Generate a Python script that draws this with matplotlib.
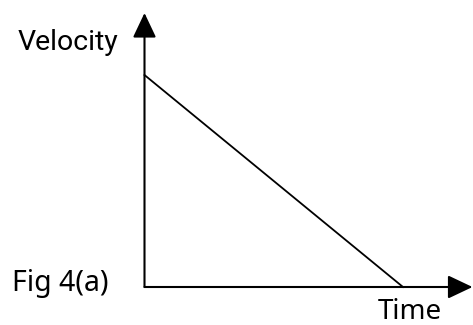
import matplotlib
matplotlib.use("Agg")
import matplotlib.pyplot as plt

# schematic velocity-time graph: uniform deceleration to rest
time = [0.0, 1.0]
velocity = [1.0, 0.0]

W, H = 473, 325
ox, oy = 144.5, 287.0          # origin in pixels (from top-left)
sx = 403.0 - ox                # pixels per time unit
sy = oy - 75.0                 # pixels per velocity unit

fig = plt.figure(figsize=(W / 100, H / 100), dpi=100)
ax = fig.add_axes([0, 0, 1, 1])
ax.set_xlim(-ox / sx, (W - ox) / sx)
ax.set_ylim(-(H - oy) / sy, oy / sy)
ax.axis("off")

x_end = (W - 0.5 - ox) / sx
y_end = (oy - 13.0) / sy
head = "-|>,head_length=0.76,head_width=0.36"
for tip in [(x_end, 0), (0, y_end)]:
    ax.annotate("", xy=tip, xytext=(0, 0),
                arrowprops=dict(arrowstyle=head, mutation_scale=20, lw=1.5,
                                color="black", shrinkA=0, shrinkB=0))

ax.plot(time, velocity, color="black", lw=1.3)

ax.text(-ox / sx + 18 / sx, (oy - 42) / sy, "Velocity", fontfamily="Roboto",
        fontsize=20.5, va="center", ha="left")
ax.text(-ox / sx + 12 / sx, (oy - 283) / sy, "Fig 4(a)", fontfamily="Noto Sans",
        fontsize=20.5, va="center", ha="left")
ax.text((410 - ox) / sx, (oy - 312) / sy, "Time", fontfamily="Noto Sans",
        fontsize=20, va="center", ha="center")

fig.savefig("out.png", dpi=100)
